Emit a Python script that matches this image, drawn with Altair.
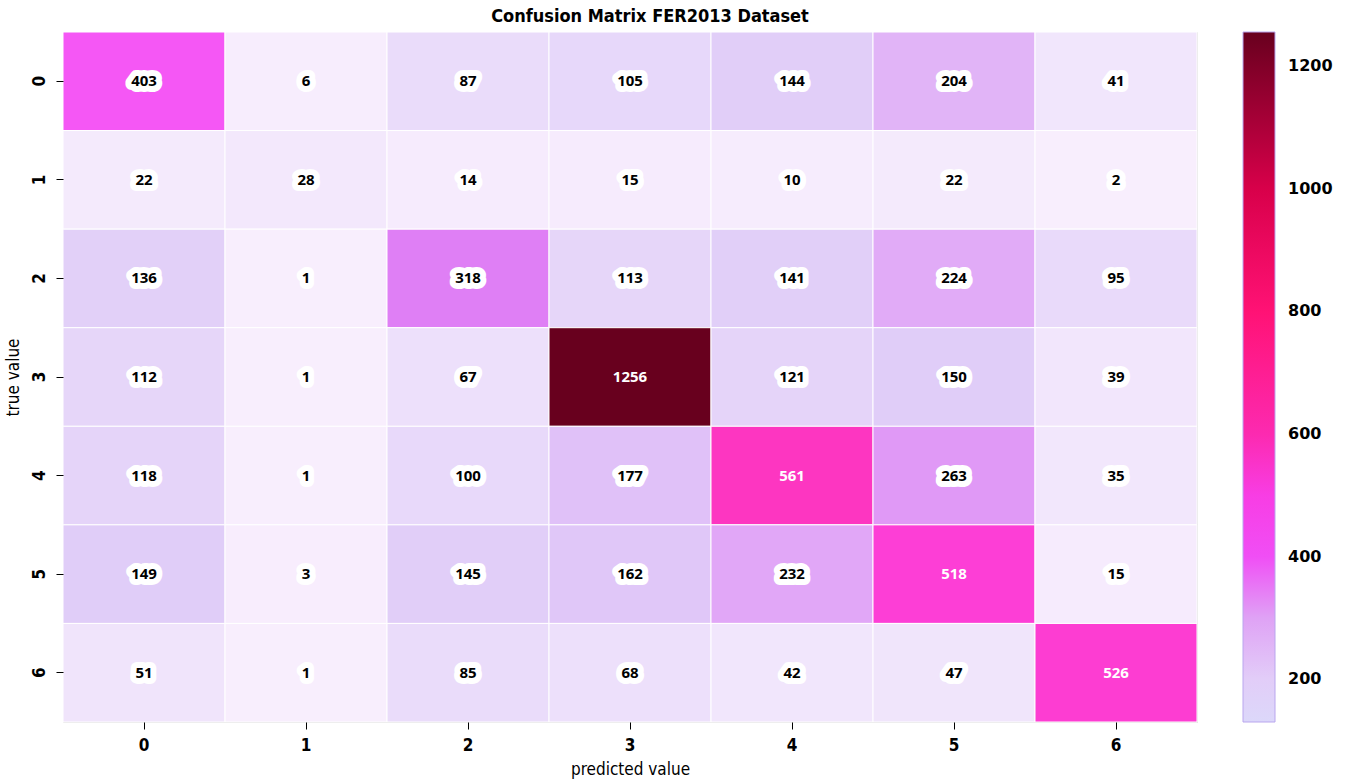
import altair as alt
import pandas as pd

# Confusion matrix counts (rows: true class, columns: predicted class)
classes = [0, 1, 2, 3, 4, 5, 6]
row_0 = [403, 6, 87, 105, 144, 204, 41]
row_1 = [22, 28, 14, 15, 10, 22, 2]
row_2 = [136, 1, 318, 113, 141, 224, 95]
row_3 = [112, 1, 67, 1256, 121, 150, 39]
row_4 = [118, 1, 100, 177, 561, 263, 35]
row_5 = [149, 3, 145, 162, 232, 518, 15]
row_6 = [51, 1, 85, 68, 42, 47, 526]
matrix = [row_0, row_1, row_2, row_3, row_4, row_5, row_6]

colorbar_ticks = [200, 400, 600, 800, 1000, 1200]

records = []
for t, row in zip(classes, matrix):
    for p, v in zip(classes, row):
        records.append({"true": t, "pred": p, "count": v})
df = pd.DataFrame(records)

# lavender -> magenta -> crimson -> maroon colormap used for the cells
cmap_domain = [0, 60, 150, 230, 320, 400, 520, 600, 800, 1000, 1256]
cmap_range = ["#f8eefd", "#eee2fb", "#e0cdf8", "#e1a8f7", "#df7ef5", "#f558f6",
              "#fd3ed5", "#fd2fae", "#ff1680", "#dc0050", "#68001e"]

# colorbar gradient, starting at the lowest colour shown on the bar
bar_domain = [130, 200, 300, 400, 520, 600, 800, 1000, 1256]
bar_range = ["#dcd8fa", "#e2cdf8", "#dfa2f5", "#f04ef5", "#fa3ae0", "#fc2ab0",
             "#ff1275", "#d8004a", "#68001e"]

label_font = "DejaVu Sans Condensed, Liberation Sans Narrow, Roboto, DejaVu Sans"

x_enc = alt.X("pred:O", sort=classes, title="predicted value",
              scale=alt.Scale(paddingInner=0, paddingOuter=0),
              axis=alt.Axis(labelAngle=0, labelFontSize=17, labelFontWeight="bold",
                            labelFont=label_font, labelColor="black", labelPadding=8,
                            tickSize=7, tickColor="black", domain=False,
                            titleFontSize=17, titleFontWeight="normal", titleFont=label_font,
                            titleColor="black", titlePadding=8))
y_enc = alt.Y("true:O", sort=classes, title="true value",
              scale=alt.Scale(paddingInner=0, paddingOuter=0),
              axis=alt.Axis(labelAngle=270, labelFontSize=17, labelFontWeight="bold",
                            labelFont=label_font, labelColor="black", labelPadding=8,
                            labelAlign="center", labelBaseline="bottom",
                            tickSize=7, tickColor="black", domain=False,
                            titleFontSize=17, titleFontWeight="normal", titleFont=label_font,
                            titleColor="black", titlePadding=8))

base = alt.Chart(df).encode(x=x_enc, y=y_enc)

# invisible layer that carries the colorbar
colorbar = base.mark_rect(opacity=0).encode(
    color=alt.Color(
        "count:Q",
        scale=alt.Scale(domain=bar_domain, range=bar_range, interpolate="rgb", clamp=True),
        legend=alt.Legend(
            title=None, orient="right", offset=46, direction="vertical",
            gradientLength=690, gradientThickness=32,
            gradientStrokeColor="#b9a6ee", gradientStrokeWidth=1,
            values=colorbar_ticks, format="d", labelFontSize=16, labelFontWeight="bold",
            labelFont="DejaVu Sans", labelColor="black", labelOffset=13,
        ),
    )
)

cells = base.mark_rect(stroke="white", strokeWidth=1).encode(
    color=alt.Color(
        "count:Q",
        scale=alt.Scale(domain=cmap_domain, range=cmap_range, interpolate="rgb"),
        legend=None,
    )
)

dark_filter = alt.datum.count > 450
light_filter = alt.datum.count <= 450

halo = base.transform_filter(light_filter).mark_text(
    fontSize=15, fontWeight="bold", font="Noto Sans",
    stroke="white", strokeWidth=12, strokeJoin="round", color="white",
).encode(text="count:Q")

dark_text = base.transform_filter(light_filter).mark_text(
    fontSize=15, fontWeight="bold", font="Noto Sans", color="black",
).encode(text="count:Q")

white_text = base.transform_filter(dark_filter).mark_text(
    fontSize=15, fontWeight="bold", font="Noto Sans", color="white",
).encode(text="count:Q")

chart = (
    alt.layer(colorbar, cells, halo, dark_text, white_text)
    .resolve_scale(color="independent")
    .properties(
        width=1134, height=690,
        title=alt.TitleParams("Confusion Matrix FER2013 Dataset", fontSize=18,
                              fontWeight="bold", font=label_font, color="black",
                              anchor="middle", offset=6, dx=20),
        autosize=alt.AutoSizeParams(type="none"),
        padding={"left": 63, "top": 32, "right": 156, "bottom": 58},
    )
    .configure_view(stroke=None)
    .configure(background="white")
)

chart.save("out.html", embed_options={"renderer": "svg", "actions": False})
